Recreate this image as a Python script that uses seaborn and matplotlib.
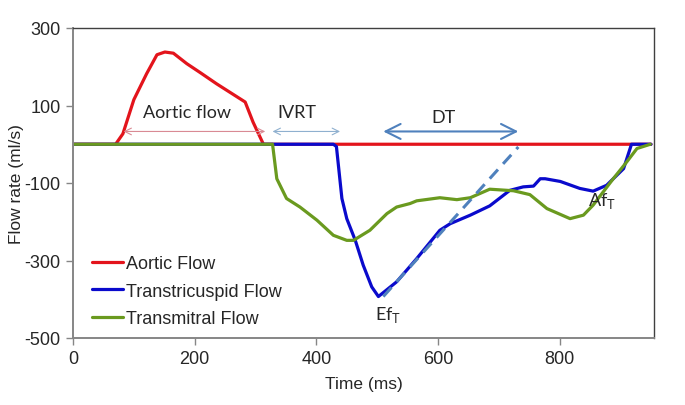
import numpy as np
import pandas as pd
import matplotlib
matplotlib.use("Agg")
import matplotlib.pyplot as plt
import seaborn as sns

# ---- data ----
aortic_t = [0, 70, 82, 100, 121, 138, 151, 165, 187, 209, 236, 264, 283, 296, 313, 950]
aortic_v = [0, 0, 27, 115, 182, 231, 238, 235, 208, 185, 156, 128, 109, 57, 0, 0]

tricuspid_t = [0, 328, 428, 433, 442, 450, 464, 477, 491, 502, 532, 565, 603, 620, 653,
               685, 718, 740, 757, 768, 776, 801, 833, 855, 877, 905, 918, 950]
tricuspid_v = [0, 0, 0, -6, -140, -192, -248, -312, -368, -393, -355, -295, -222, -205, -183,
               -159, -119, -110, -108, -89, -89, -96, -114, -121, -106, -63, 0, 0]

mitral_t = [0, 328, 335, 351, 373, 401, 428, 450, 461, 488, 516, 532, 554, 565, 603, 631,
            653, 685, 724, 751, 779, 817, 839, 855, 888, 910, 927, 949]
mitral_v = [0, 0, -89, -140, -162, -196, -235, -248, -248, -222, -179, -162, -153, -146,
            -138, -143, -138, -116, -120, -130, -166, -192, -183, -157, -89, -46, -11, 0]

series_names = ["Aortic Flow", "Transtricuspid Flow", "Transmitral Flow"]

dt_slope_t = [510, 732]
dt_slope_v = [-393, -7]

# annotation spans (start, end) in ms, and their level in ml/s
aortic_span = [83, 316]
ivrt_span = [328, 439]
dt_span = [510, 732]
arrow_level = 33

x_ticks = [0, 200, 400, 600, 800]
y_ticks = [-500, -300, -100, 100, 300]

# ---- build table ----
df = pd.concat([
    pd.DataFrame({"t": aortic_t, "v": aortic_v, "s": series_names[0]}),
    pd.DataFrame({"t": tricuspid_t, "v": tricuspid_v, "s": series_names[1]}),
    pd.DataFrame({"t": mitral_t, "v": mitral_v, "s": series_names[2]}),
], ignore_index=True)

sns.set_theme(style="white")
plt.rcParams["font.family"] = ["Liberation Sans", "DejaVu Sans"]
plt.rcParams["axes.unicode_minus"] = False

fig = plt.figure(figsize=(6.85, 4.06), dpi=100)
ax = fig.add_axes([73/685, 1-339/406, (654-73)/685, (339-29)/406])

palette = {series_names[0]: "#e3141c",
           series_names[1]: "#0a0acc",
           series_names[2]: "#6a9a1f"}

sns.lineplot(data=df, x="t", y="v", hue="s", palette=palette, estimator=None,
             sort=False, linewidth=2.3, ax=ax, legend=True)

sns.lineplot(x=dt_slope_t, y=dt_slope_v, ax=ax, color="#4f81bd", linewidth=2.2,
             linestyle=(0, (4, 2.5)), legend=False)

ax.set_xlim(0, 955)
ax.set_ylim(-500, 300)
ax.set_xticks(x_ticks)
ax.set_yticks(y_ticks)
ax.tick_params(axis="both", which="both", direction="out", length=5, width=1,
               color="#868686", labelsize=13, pad=4, bottom=True, left=True)

for side in ["left", "bottom"]:
    ax.spines[side].set_color("#868686")
    ax.spines[side].set_linewidth(1.4)
for side in ["top", "right"]:
    ax.spines[side].set_color("#404040")
    ax.spines[side].set_linewidth(1.0)

ax.set_xlabel("Time (ms)", fontsize=12.5, labelpad=6)
ax.set_ylabel("Flow rate (ml/s)", fontsize=12.5, labelpad=0)

# arrows
ax.annotate("", xy=(aortic_span[0], arrow_level), xytext=(aortic_span[1], arrow_level),
            arrowprops=dict(arrowstyle="<->", color="#d98a94", lw=0.8,
                            shrinkA=0, shrinkB=0))
ax.annotate("", xy=(ivrt_span[0], arrow_level), xytext=(ivrt_span[1], arrow_level),
            arrowprops=dict(arrowstyle="<->", color="#8fb0cf", lw=0.8,
                            shrinkA=0, shrinkB=0))
ax.annotate("", xy=(dt_span[0], arrow_level), xytext=(dt_span[1], arrow_level),
            arrowprops=dict(arrowstyle="<->,head_length=0.9,head_width=0.45",
                            color="#4f81bd", lw=1.5, shrinkA=0, shrinkB=0))

lab_font = ["Lato", "DejaVu Sans"]
ax.text(187, 83, "Aortic flow", fontsize=13, ha="center", va="center", family=lab_font)
ax.text(368, 83, "IVRT", fontsize=13, ha="center", va="center", family=lab_font)
ax.text(609, 70, "DT", fontsize=13, ha="center", va="center", family=lab_font)
ax.text(518, -437, r"Ef$_\mathregular{T}$", fontsize=13, ha="center", va="center", family=lab_font)
ax.text(869, -145, r"Af$_\mathregular{T}$", fontsize=13, ha="center", va="center", family=lab_font)

sns.move_legend(ax, "upper left", bbox_to_anchor=(0.02, 0.29), frameon=False, title=None,
                fontsize=13, handlelength=1.7, handletextpad=0.2, labelspacing=0.58,
                borderaxespad=0)

fig.savefig("out.png", dpi=100)
